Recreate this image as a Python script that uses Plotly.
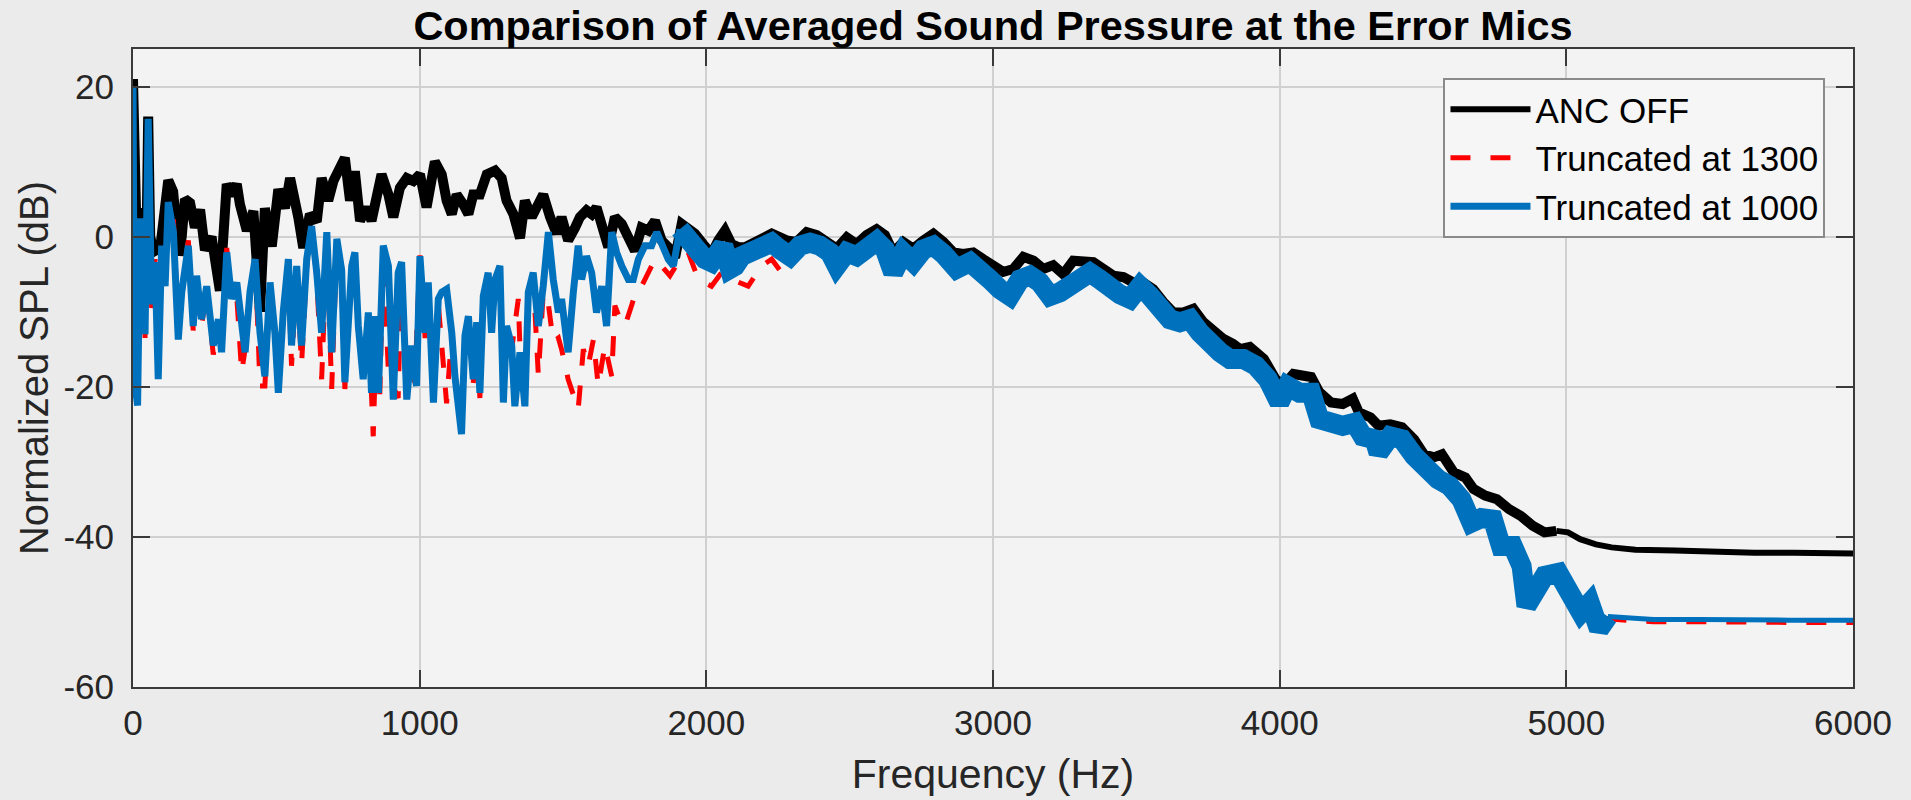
import plotly.graph_objects as go

# ---------------- data ----------------
off_f = [0, 12, 25, 38, 47, 53, 60, 72, 95, 123, 140, 160, 170, 181, 199, 216, 234, 251, 274, 303,
         327, 345, 362, 373, 397, 420, 443, 460, 484, 507, 530, 548, 577, 594, 617, 641, 658, 681, 699, 716,
         739, 757, 774, 792, 815, 832, 850, 867, 891, 908, 931, 955, 978, 1001, 1024, 1053, 1077, 1094, 1112, 1129,
         1152, 1170, 1187, 1210, 1234, 1263, 1286, 1303, 1327, 1350, 1367, 1391, 1408, 1431, 1455, 1478,
         1495, 1518, 1542, 1559, 1582, 1600, 1617, 1635, 1658, 1681, 1705, 1728, 1751, 1774, 1798, 1821, 1844,
         1867, 1891, 1914, 1937, 1960, 1989, 2018, 2042, 2065, 2088, 2111, 2135, 2158, 2181, 2205, 2228,
         2257, 2280, 2315, 2350, 2385, 2420, 2455, 2490, 2524, 2559, 2594, 2623, 2652, 2687, 2722, 2757, 2792,
         2827, 2862, 2896, 2931, 2966, 3001, 3036, 3071, 3106, 3141, 3175, 3210, 3245, 3280, 3315, 3350, 3385,
         3420, 3455, 3489, 3524, 3559, 3594, 3629, 3664, 3699, 3734, 3769, 3803, 3838,
         3862, 3896, 3945, 3986, 4014, 4048, 4082, 4110, 4138, 4179, 4220, 4255, 4276, 4317, 4345, 4386, 4427,
         4469, 4503, 4538, 4566, 4607, 4648, 4676, 4717, 4758, 4800, 4841, 4882, 4924, 4965, 5006, 5048, 5103,
         5158, 5241, 5379, 5517, 5655, 5793, 6000]
off_db = [21, 1, 3.5, 3, -1, 16, 0, -2, -1.5, 7.5, 6, -2.5, 0, 5, 4.5, 1.2, 3.6, -1.8, 0, -7.2,
          7, 5.5, 7, 4.3, 0.8, 3.4, -10, 3.8, -1.3, 6.3, 3.8, 7.8, 2.5, -1.5, 3, 2, 7.8, 4.8, 7.4, 8.7,
          10.5, 4.8, 8.7, 2.1, 3.9, 2.1, 6, 8.3, 5.6, 2.6, 6.5, 7.8, 7.4, 8.3, 3.9, 10, 8.3, 4.8, 3, 5.6,
          4.3, 3, 5.6, 5.6, 8.3, 8.8, 7.8, 4.8, 3, -0.2, 4.8, 2.6, 3.9, 5.6, 2.6, 0.4,
          2.6, -0.5, 1.2, 2.6, 3.5, 3, 3.9, 1.2, -1.4, 2.6, 1.7, -0.1, -1.9, 1.2, 0.8, 2.1, -0.5,
          -1.4, -2.8, 1.7, 1.2, 0.4, -1, -2.3, -0.5, 0.8, -1, -1.4, -1.4, -1, -0.5, 0.1, 0.4,
          -0.1, -0.5, -0.7, 0.6, 0.2, -0.7, -1.6, -0.1, -1, 0.2, 1, 0.2, -2.1, -0.7, -1.6, -0.5, 0.4,
          -0.7, -2.1, -2.3, -2.1, -3, -3.8, -4.7, -4.3, -2.7, -3.2, -4.3, -3.8, -5, -3.2, -3.2, -3.4, -4.3,
          -5.2, -5.4, -6.1, -6.1, -7, -8.7, -10.1, -10.1, -9.6, -11.4, -12.7, -13.6, -14.3,
          -15, -14.7, -16.3, -19, -19.8, -18.3, -18.7, -18.7, -20.7, -22.1, -22.3, -21.6, -23.4, -24.1, -25.2, -25, -25.4,
          -27, -29, -29.4, -29, -31.4, -32.1, -33.6, -34.5, -35, -36.3, -37.2, -38.5, -39.4, -39.2, -39.4, -40.3, -41,
          -41.4, -41.7, -41.8, -42, -42.1, -42.1, -42.2]

t1300_f = [0, 5, 16, 25, 36, 42, 53, 65, 77, 88, 100, 112, 123, 141, 158, 170, 193, 210, 222, 239,
           257, 280, 298, 309, 327, 344, 362, 379, 391, 408, 426, 443, 460, 478, 495, 507, 524, 542, 553, 571,
           588, 606, 623, 641, 658, 676, 693, 711, 728, 739,
           763, 774, 786, 803, 821, 838, 850, 861, 873, 891, 908, 925, 937, 955, 972, 983, 1001, 1019, 1030, 1048,
           1065, 1094, 1112, 1123, 1146, 1158, 1170, 1187, 1199, 1210, 1222, 1239, 1251, 1263, 1280, 1292, 1303,
           1321, 1344, 1350, 1367, 1379, 1396, 1414, 1431, 1449, 1466, 1484,
           1495, 1518, 1553, 1571, 1588, 1606, 1623, 1646, 1670, 1681, 1699, 1716, 1739, 1757, 1774, 1798, 1821,
           1844, 1873, 1902, 1937, 1972, 2018, 2053, 2088, 2146, 2193, 2228,
           2257, 2292, 2327, 2362, 2396, 2431, 2455, 2490, 2524, 2559, 2594, 2623, 2652, 2687, 2722, 2757, 2792,
           2827, 2873, 2920, 2955, 2989, 3024, 3059, 3094, 3129, 3164, 3199, 3234, 3268, 3303, 3338, 3373, 3408,
           3443, 3478, 3513, 3548, 3582, 3617, 3652, 3687, 3722, 3757, 3792, 3826, 3873, 3917, 3959, 3999, 4027,
           4069, 4110, 4138, 4179, 4220, 4262, 4290, 4331, 4345, 4386, 4427, 4469, 4510, 4552, 4593, 4634, 4669,
           4703, 4744, 4772, 4813, 4844, 4861, 4893, 4924, 4972, 5003, 5051, 5082, 5114, 5145, 5209, 5304, 5462,
           5620, 5779, 6000]
t1300_db = [19.5, -19, -22, 1.5, 1.5, -13.5, 15.5, -9.5, -3, -18.5, -1.5, -7, 4, 2.5, -13, -8, -0.5, -12.5, -6, -12,
            -7, -15.7, -12, -15, -1.5, -9, -8, -18.1, -15, -8, -2.5, -19.9, -19.9, -6.5, -13.5, -20, -11, -5, -17.2, -5,
            -17, -4, 1.2, -5.5, -19, -1, -20.3, -1, -4, -20.3,
            -3.5, -3, -12.5, -19.5, -11, -26.6, -11, -21, -2, -18.1, -20, -21.5, -3, -21, -15, -19.5, -2.5, -13.5, -7, -22,
            -9, -22.2, -13, -19, -26, -13.5, -11, -19.5, -12, -21.5, -8.5, -5.5, -13, -6, -4.5, -22.5, -12,
            -15, -8.3, -15, -22, -8.5, -5.5, -18.5, -7.5, -9, -14, -13.5,
            -15, -19, -23, -15, -17.2, -13.7, -19.9, -14.5, -18.6, -9.2, -11, -11.9, -9.2, -7, -6.6, -4.8, -3,
            -3.9, -5.2, -3.4, -2.1, -5.7, -6.6, -4.8, -5.7, -6.6, -3.9, -3,
            -4.5, -3.6, -1.8, -1.3, -1.6, -2.6, -4.4, -2.6, -3.0, -2.1, -1.0, -2.0, -5.0, -2.4, -3.7, -2.0, -1.5,
            -2.6, -4.5, -3.7, -4.6, -6.0, -7.3, -8.1, -6.0, -5.5, -6.4, -8.1, -7.7, -6.9, -5.3, -5.1, -6.0, -7.3,
            -8.0, -8.6, -6.9, -8.2, -10.0, -11.3, -11.7, -11.3, -13.1, -14.9, -15.7, -16.6, -16.6, -17.5, -19.3, -22.4, -20.2,
            -21.1, -21.1, -24.6, -25.1, -25.5, -25.1, -26.9, -27.3, -29.1, -26.9, -27.3, -29.5, -31.3, -32.6, -33.5, -35.3, -38.4,
            -37.8, -38.0, -41.5, -41.5, -44.2, -49.5, -46.9, -45.5, -45.1, -46.9, -50.4, -49.1, -52.6, -50.9, -51.1, -51.3, -51.3,
            -51.4, -51.4, -51.4]

t1000_f = [0, 5, 16, 25, 36, 42, 53, 65, 77, 88, 100, 112, 123, 141, 158, 170, 193, 210, 222, 239,
           257, 280, 298, 309, 327, 344, 362, 379, 391, 408, 426, 443, 460, 478, 495, 507, 524, 542, 553, 571,
           588, 606, 623, 641, 658, 676, 693, 711, 728, 739,
           763, 774, 786, 803, 821, 832, 844, 856, 873, 891, 908, 925, 937, 955, 972, 989, 1001, 1019, 1030, 1048,
           1065, 1077, 1094, 1112, 1123, 1146, 1158, 1170, 1187, 1199, 1210, 1222, 1239, 1251, 1263, 1280, 1292,
           1303, 1321, 1332, 1350, 1367, 1379, 1396, 1414, 1431, 1449, 1466, 1484,
           1495, 1513, 1518, 1536, 1553, 1565, 1582, 1600, 1617, 1635, 1652, 1670, 1687, 1705, 1728, 1745, 1763,
           1786, 1809, 1827, 1844, 1867, 1885, 1908, 1931, 1949, 1966, 1995, 2018, 2042, 2059, 2082, 2100, 2123,
           2146, 2170, 2193, 2228,
           2257, 2292, 2327, 2362, 2396, 2431, 2455, 2490, 2524, 2559, 2594, 2623, 2652, 2687, 2722, 2757, 2792,
           2827, 2873, 2920, 2955, 2989, 3024, 3059, 3094, 3129, 3164, 3199, 3234, 3268, 3303, 3338, 3373, 3408,
           3443, 3478, 3513, 3548, 3582, 3617, 3652, 3687, 3722, 3757, 3792, 3826, 3873, 3917, 3959, 3999, 4027,
           4069, 4110, 4138, 4179, 4220, 4262, 4290, 4331, 4345, 4386, 4427, 4469, 4510, 4552, 4593, 4634, 4669,
           4703, 4744, 4772, 4813, 4844, 4861, 4893, 4924, 4972, 5003, 5051, 5082, 5114, 5145, 5209, 5304, 5462,
           5620, 5779, 6000]
t1000_db = [20, -19, -22.5, 2, 2, -13, 15.7, -9, -3.4, -19, -1.2, -6.6, 4.6, 0.6, -13.7, -7.4, -1.2, -11.9, -5.2, -11,
            -6.6, -14.5, -11, -15.4, -2.1, -8.3, -6.1, -11.9, -15.4, -7.4, -3, -12.8, -18.6, -6.1, -12.8, -20.8, -10.1, -3, -14.5, -3.9,
            -14.5, -3, 1.4, -4.8, -12.8, 0.6, -15.4, -0.3, -4.5, -19.4,
            -3.9, -2.1, -11.9, -19, -10.1, -20.8, -10.6, -20.8, -1.2, -3.9, -21.7, -4.8, -3.4, -21.7, -14.5, -19.9, -2.6, -12.8, -6.1, -22.1,
            -8.3, -7.4, -7, -12.8, -18.6, -26.3, -13.2, -10.6, -19, -11.4, -20.8, -7.9, -4.8, -12.8, -5.7, -3.9, -22.1,
            -11.9, -14.5, -22.6, -15.4, -22.6, -7.4, -4.8, -11.9, -6.6, 0.6, -5.7, -10.1,
            -8.3, -12.8, -15.4, -7.4, -1.2, -5.7, -2.6, -4.8, -10.1, -6.6, -11.9, 0.6, -2.1, -3.9, -5.7, -5.7, -3,
            -1.2, -1.2, 0.6, -1.2, -3, -3.9, 1, -0.3, -1.2, -2.1, -3, -3.4, -1.7, -1.2, -4.3, -3.9, -2.6,
            -2.1, -1.7, -1.2, -0.8,
            -1.7, -2.6, -1.2, -0.8, -1.2, -2.1, -3.9, -2.1, -2.6, -1.7, -0.6, -1.7, -4.8, -2.1, -3.4, -1.7, -1.2,
            -2.3, -4.3, -3.4, -4.3, -5.7, -7, -7.9, -5.7, -5.2, -6.1, -7.9, -7.4, -6.6, -5, -4.8, -5.7, -7,
            -7.7, -8.3, -6.6, -7.9, -9.7, -11, -11.4, -11, -12.8, -14.6, -15.4, -16.3, -16.3, -17.2, -19, -22.1, -19.9,
            -20.8, -20.8, -24.3, -24.8, -25.2, -24.8, -26.6, -27, -28.8, -26.6, -27, -29.2, -31, -32.3, -33.2, -35, -38.1,
            -37.5, -37.7, -41.2, -41.2, -43.9, -49.2, -46.6, -45.2, -44.8, -46.6, -50.1, -48.8, -52.3, -50.6, -50.8, -51, -51,
            -51.1, -51.1, -51.1]

x_ticks = [0, 1000, 2000, 3000, 4000, 5000, 6000]
x_tick_text = ["0", "1000", "2000", "3000", "4000", "5000", "6000"]
y_ticks = [-60, -40, -20, 0, 20]
y_tick_text = ["-60", "-40", "-20", "0", "20"]

# ---------------- helpers ----------------
def split_at(f, v, bounds):
    cuts = [min(range(len(f)), key=lambda i: abs(f[i] - b)) for b in bounds]
    starts = [0] + cuts
    ends = cuts + [len(f) - 1]
    return [(f[s:e + 1], v[s:e + 1]) for s, e in zip(starts, ends)]

FONT = "Liberation Sans, Arial, sans-serif"
fig = go.Figure()

def add_series(f, v, bounds, widths, color, name, legend_seg, dash="solid"):
    for k, ((fs, vs), w) in enumerate(zip(split_at(f, v, bounds), widths)):
        fig.add_trace(go.Scatter(
            x=fs, y=vs, mode="lines", name=name, legendgroup=name,
            showlegend=(k == legend_seg),
            line=dict(color=color, width=w, dash=dash),
            hoverinfo="x+y+name"))

add_series(off_f, off_db, [4950], [10, 6], "#000000", "ANC OFF", 1)
add_series(t1300_f, t1300_db, [], [5], "#ff0000", "Truncated at 1300", 0, dash="20px,20px")
add_series(t1000_f, t1000_db, [1900, 5150], [7, 20, 5], "#0072bd", "Truncated at 1000", 0)

axis_common = dict(
    showline=True, linecolor="#3a3a3a", linewidth=2, mirror="allticks",
    ticks="inside", ticklen=17, tickwidth=2, tickcolor="#3a3a3a",
    showgrid=True, gridcolor="#d0d0d0", gridwidth=2, zeroline=False,
    tickfont=dict(family=FONT, size=35, color="#262626"),
)

fig.update_layout(
    width=1911, height=800,
    margin=dict(l=133, r=58, t=49, b=113),
    paper_bgcolor="#ebebeb", plot_bgcolor="#f3f3f3",
    title=dict(text="<b>Comparison of Averaged Sound Pressure at the Error Mics</b>",
               font=dict(family=FONT, size=41.5, color="#000000"),
               x=0.5, xref="paper", xanchor="center",
               y=1 - 25 / 800, yref="container", yanchor="middle"),
    xaxis=dict(range=[0, 6000], tickvals=x_ticks, ticktext=x_tick_text, ticklabelstandoff=4,
               title=dict(text="Frequency (Hz)", standoff=18,
                          font=dict(family=FONT, size=41, color="#262626")),
               **axis_common),
    yaxis=dict(range=[-60, 25], tickvals=y_ticks, ticktext=y_tick_text, ticklabelstandoff=10,
               title=dict(text="Normalized SPL (dB)", standoff=2,
                          font=dict(family=FONT, size=40, color="#262626")),
               **axis_common),
    legend=dict(x=0.984, xanchor="right", y=0.9545, yanchor="top",
                bgcolor="#f6f6f6", bordercolor="#8a8a8a", borderwidth=2,
                font=dict(family=FONT, size=35, color="#000000"),
                itemwidth=80, tracegroupgap=0),
    showlegend=True,
)

fig.write_html("out.html")
